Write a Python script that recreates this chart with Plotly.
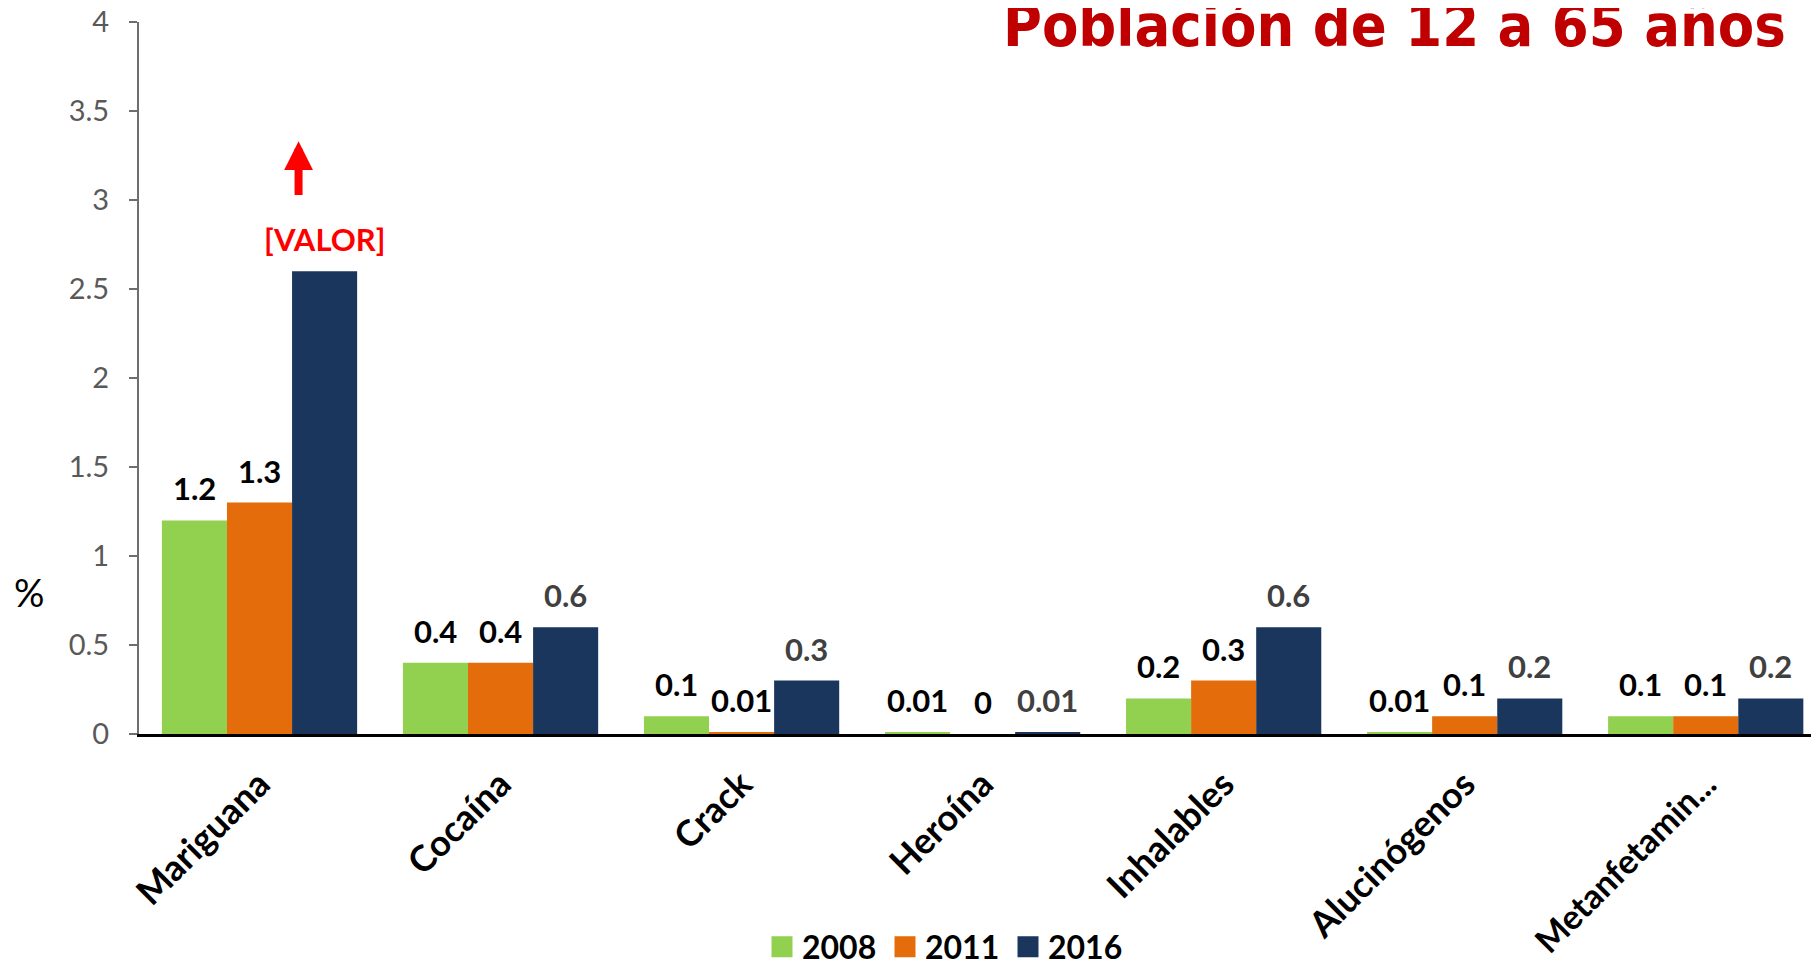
import plotly.graph_objects as go

categories = ["Mariguana", "Cocaína", "Crack", "Heroína", "Inhalables", "Alucinógenos", "Metanfetamin..."]
years = ["2008", "2011", "2016"]
v2008 = [1.2, 0.4, 0.1, 0.01, 0.2, 0.01, 0.1]
v2011 = [1.3, 0.4, 0.01, 0, 0.3, 0.1, 0.1]
v2016 = [2.6, 0.6, 0.3, 0.01, 0.6, 0.2, 0.2]
labels2016 = ["[VALOR]", "0.6", "0.3", "0.01", "0.6", "0.2", "0.2"]
yticks = [0, 0.5, 1, 1.5, 2, 2.5, 3, 3.5, 4]
ytick_text = ["0", "0.5", "1", "1.5", "2", "2.5", "3", "3.5", "4"]
title_text = "Población de 12 a 65 años"

colors = ["#92D050", "#E46C0A", "#1A365D"]
series = [v2008, v2011, v2016]
label_colors = ["#000000", "#000000", "#404040"]

# page body has an 8px margin; canvas sized so it fits the 1819x961 window
W, H = 1811, 953
ML, MR, MT, MB = 131, 0, 14, 227
OFF = 8
BARGAP = 0.19
bar_w = (1 - BARGAP) / 3
xmax = 6.47

fig = go.Figure()
for k, (yr, vals, col) in enumerate(zip(years, series, colors)):
    fig.add_trace(go.Bar(x=categories, y=vals, name=yr, marker=dict(color=col, line=dict(width=0)),
                         showlegend=False, hoverinfo="skip"))
    # legend proxy
    fig.add_trace(go.Scatter(x=[None], y=[None], mode="markers", name=yr,
                             marker=dict(symbol="square", size=16, color=col, line=dict(color=col, width=5))))

LABEL_FONT = "Lato"
ann = []
for k, vals in enumerate(series):
    for i, v in enumerate(vals):
        txt = labels2016[i] if k == 2 else f"{v:g}"
        colr = label_colors[k]
        if k == 2 and i == 0:
            colr = "#FF0000"
        ann.append(dict(x=i + (k - 1) * bar_w, y=v, xref="x", yref="y", text=txt, showarrow=False,
                        yanchor="bottom", xanchor="center", yshift=11,
                        font=dict(family=LABEL_FONT, size=31, color=colr, weight="bold")))

# red arrow above Mariguana 2016
ann.append(dict(x=0 + bar_w - 0.108, y=3.33, ax=0 + bar_w - 0.108, ay=3.02, xref="x", yref="y",
                axref="x", ayref="y", text="", showarrow=True, arrowhead=2, arrowsize=0.72,
                arrowwidth=8, arrowcolor="#FF0000", standoff=0))

plot_w = W - ML - MR
plot_h = H - MT - MB
left_screen = ML + OFF
# title
ann.append(dict(x=(1788 - left_screen) / plot_w, y=1, xref="paper", yref="paper", text=title_text,
                showarrow=False, xanchor="right", yanchor="bottom", yshift=-40,
                font=dict(family="DejaVu Sans Condensed", size=59, color="#C00000", weight="bold")))
# y axis title
ann.append(dict(x=(29 - left_screen) / plot_w, y=(734 - 592) / plot_h, xref="paper", yref="paper", text="%",
                showarrow=False, xanchor="center", yanchor="middle",
                font=dict(family=LABEL_FONT, size=38, color="#000000")))

# long last label is set a little tighter, as in the original
tick_text = [c if len(c) < 13 else f'<span style="font-size:34px">{c}</span>' for c in categories]

fig.update_layout(
    width=W, height=H,
    margin=dict(l=ML, r=MR, t=MT, b=MB, pad=0, autoexpand=False),
    paper_bgcolor="white", plot_bgcolor="white",
    barmode="group", bargap=BARGAP, bargroupgap=0,
    annotations=ann,
    showlegend=True,
    legend=dict(orientation="h", xref="paper", x=(762 - left_screen) / plot_w, xanchor="left",
                yref="container", y=(H - (947 - OFF)) / H, yanchor="middle",
                entrywidth=78, entrywidthmode="pixels",
                font=dict(family=LABEL_FONT, size=32, color="#000000", weight="bold"),
                itemsizing="trace", bgcolor="rgba(0,0,0,0)"),
    xaxis=dict(type="category", range=[-0.5, xmax], showline=True, linecolor="#000000", linewidth=2.5,
               tickvals=categories, ticktext=tick_text,
               ticks="", tickangle=-45, showgrid=False, zeroline=False, fixedrange=True, automargin=False,
               tickfont=dict(family=LABEL_FONT, size=36, color="#000000", weight="bold"),
               ticklabelstandoff=12, ticklabeloverflow="allow"),
    yaxis=dict(range=[0, 4], tickvals=yticks, ticktext=ytick_text, showline=True, linecolor="#6E6E6E",
               linewidth=2, ticks="outside", ticklen=8, tickwidth=2, tickcolor="#6E6E6E",
               showgrid=False, zeroline=False, fixedrange=True, ticklabelstandoff=14, automargin=False,
               ticklabeloverflow="allow",
               tickfont=dict(family=LABEL_FONT, size=29, color="#595959")),
)

fig.write_html("out.html")
